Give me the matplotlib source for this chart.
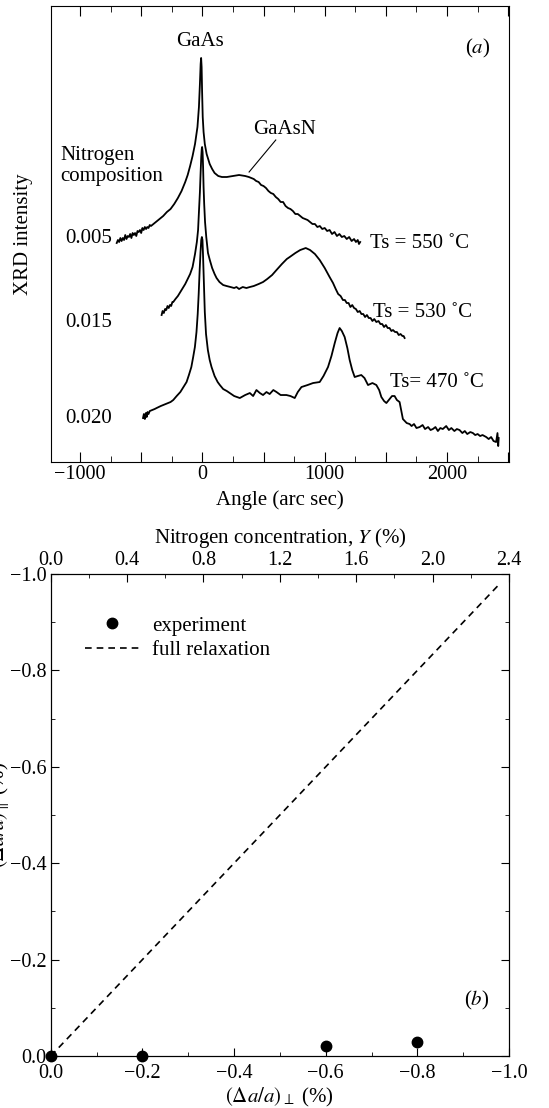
import numpy as np
import matplotlib
matplotlib.use("Agg")
import matplotlib.pyplot as plt
from matplotlib.ticker import MultipleLocator, FuncFormatter

plt.rcParams["font.family"] = ["Liberation Serif", "DejaVu Serif"]
plt.rcParams["mathtext.fontset"] = "stix"
plt.rcParams["font.size"] = 15
plt.rcParams["xtick.labelsize"] = 14.5
plt.rcParams["ytick.labelsize"] = 14.5

# ---- panel (a): XRD rocking curves (angle in arc sec, intensity in arb. units) ----
ang_005 = [-700, -690, -680, -670, -660, -650, -640, -630, -620, -610, -600, -590, -580, -570,
           -560, -550, -540, -530, -520, -510, -500, -490, -480, -470, -460, -450, -440, -430,
           -420, -400, -380, -350, -320, -290, -260, -230, -200, -170, -140, -120, -100, -80,
           -60, -40, -28, -20, -14, -10, -6, -2, 3, 10, 20, 35, 60, 80, 100, 130, 160, 200,
           250, 300, 350, 380, 400, 420, 440, 460, 480, 500, 520, 540, 560, 580, 600, 620, 640,
           660, 680, 700, 720, 740, 760, 780, 800, 820, 840, 860, 880, 900, 920, 940, 960, 980,
           1000, 1020, 1040, 1060, 1080, 1100, 1120, 1140, 1160, 1180, 1200, 1220, 1240, 1255,
           1270, 1280, 1290]
int_005 = [219, 222, 220, 224, 221, 224, 222, 227, 223, 226, 225, 228, 224, 229,
           227, 229, 226, 231, 230, 232, 229, 234, 232, 235, 233, 235, 234, 237,
           236, 238, 240, 243, 246, 250, 253, 258, 264, 271, 280, 287, 296, 306,
           318, 335, 355, 378, 398, 404, 395, 370, 345, 330, 318, 308, 298, 293, 289, 286, 285, 285,
           286, 287, 286, 285, 284, 283, 281, 280, 277, 276, 274, 271, 269, 268, 265, 263, 260,
           260, 256, 254, 253, 251, 248, 248, 246, 244, 243, 242, 240, 238, 238, 235, 236, 233,
           234, 231, 232, 228, 230, 226, 228, 225, 226, 223, 225, 221, 223, 220,
           222, 218, 220]

ang_015 = [-333, -325, -315, -305, -295, -285, -275, -265, -255, -245, -238, -220, -200, -180,
           -160, -140, -120, -100, -80, -60, -45, -35, -28, -20, -14, -9, -5, -2, 2, 6, 10, 15,
           22, 32, 46, 61, 80, 100, 116, 140, 170, 198, 230, 260, 279, 300, 330, 360, 388, 420,
           460, 496, 530, 570, 606, 650, 690, 714, 760, 800, 845, 880, 920, 959, 1000, 1040,
           1068, 1090, 1110, 1130, 1149, 1165, 1180, 1195, 1210, 1225, 1240, 1255, 1270, 1286,
           1300, 1315, 1330, 1345, 1360, 1375, 1390, 1405, 1422, 1440, 1455, 1470, 1485, 1500,
           1515, 1530, 1545, 1558, 1575, 1590, 1605, 1620, 1635, 1645, 1653]
int_015 = [147, 151, 149, 153, 152, 156, 154, 157, 156, 160, 160, 163, 166, 170,
           174, 178, 183, 188, 195, 208, 220, 232, 250, 270, 290, 305, 313, 315, 310, 295, 275, 258,
           240, 225, 209, 202, 194, 188, 184, 180, 177, 176, 175, 174, 175, 173, 175, 174, 175, 176,
           178, 180, 183, 187, 192, 198, 203, 205, 209, 212, 214, 212, 208, 202, 194, 185,
           179, 173, 168, 166, 162, 162, 159, 159, 155, 157, 154, 153, 150, 151,
           148, 148, 145, 147, 144, 144, 141, 143, 140, 141, 138, 138, 135, 137,
           134, 134, 131, 132, 130, 130, 127, 128, 126, 126, 124]

ang_020 = [-485, -478, -470, -462, -455, -448, -440, -430, -410, -390, -374, -340, -300, -260,
           -238, -210, -180, -150, -129, -110, -90, -75, -61, -48, -38, -30, -22, -15, -9, -4, 1,
           6, 12, 20, 30, 45, 60, 75, 100, 125, 143, 170, 200, 224, 260, 306, 350, 388, 415, 442,
           470, 496, 524, 550, 580, 606, 640, 687, 720, 755, 780, 810, 860, 905, 959, 990, 1027,
           1055, 1082, 1105, 1122, 1140, 1163, 1185, 1204, 1225, 1245, 1270, 1299, 1325, 1354,
           1390, 1422, 1445, 1463, 1485, 1504, 1530, 1550, 1571, 1590, 1612, 1625, 1639, 1655,
           1670, 1694, 1710, 1730, 1750, 1776, 1800, 1820, 1845, 1865, 1884, 1905, 1925, 1945,
           1965, 1993, 2015, 2035, 2060, 2080, 2102, 2125, 2145, 2165, 2190, 2211, 2230, 2250,
           2270, 2290, 2320, 2340, 2360, 2380, 2401, 2412, 2418, 2422]
int_020 = [44, 48, 43, 49, 45, 50, 48, 51, 52, 53, 54, 56, 58, 60,
           62, 66, 70, 76, 80, 87, 95, 105, 115, 130, 148, 168, 192, 210, 222, 225, 222,
           205, 180, 150, 128, 112, 102, 95, 86, 80, 77, 73, 71, 69, 66, 64, 67, 69, 66, 72,
           69, 67, 70, 68, 72, 70, 67, 67, 66, 64, 70, 75, 77, 79, 80, 86, 95,
           106, 119, 129, 134, 131, 125, 114, 102, 92, 85, 86, 87, 84, 77,
           79, 77, 72, 65, 61, 59, 63, 66, 66, 62, 60, 52, 43, 41,
           39, 38, 36, 38, 34, 35, 37, 33, 35, 32, 33, 35, 31, 34,
           33, 36, 32, 34, 31, 33, 32, 29, 31, 28, 30, 29, 27, 28,
           26, 27, 25, 23, 25, 21, 20, 29, 16, 24]

labels_N = ["0.005", "0.015", "0.020"]
labels_Ts = ["Ts = 550 \u02daC", "Ts = 530 \u02daC", "Ts= 470 \u02daC"]

# ---- panel (b): strain ----
exp_perp = [0.0, -0.2, -0.6, -0.8]
exp_par = [0.0, 0.0, -0.02, -0.03]
relax_perp = [0.0, -0.98]
relax_par = [0.0, -0.98]


def fmt1(v, pos):
    if abs(v) < 1e-9:
        v = 0.0
    return f"{v:.1f}".replace("-", "\u2212")


def fmt_angle(v, pos):
    if abs(v) % 1000 > 1e-6:
        return ""
    return f"{int(round(v))}".replace("-", "\u2212")


fig = plt.figure(figsize=(5.49, 11.08), dpi=100)

# panel (a)
ax1 = fig.add_axes([0.0929, 0.583, 0.8342, 0.4116])
for a, i in [(ang_005, int_005), (ang_015, int_015), (ang_020, int_020)]:
    ax1.plot(a, i, color="black", lw=1.3)
ax1.set_xlim(-1237, 2506)
ax1.set_ylim(0, 456)
ax1.set_yticks([])
ax1.xaxis.set_major_locator(MultipleLocator(500))
ax1.xaxis.set_minor_locator(MultipleLocator(250))
ax1.xaxis.set_major_formatter(FuncFormatter(fmt_angle))
ax1.tick_params(axis="x", which="both", direction="in", top=True, bottom=True, pad=2)
ax1.tick_params(axis="x", which="major", length=7.5)
ax1.tick_params(axis="x", which="minor", length=4)
ax1.set_xlabel("Angle (arc sec)", labelpad=5)
ax1.set_ylabel("XRD intensity")
ax1.yaxis.set_label_coords(-0.04, 0.5)

ax1.text(-20, 420, "GaAs", ha="center", va="center")
ax1.text(2249, 414, r"($a$)", ha="center", va="center")
ax1.text(673, 332, "GaAsN", ha="center", va="center")
ax1.plot([600, 382], [322, 290], color="black", lw=0.8)
ax1.text(-1163, 296, "Nitrogen\ncomposition", ha="left", va="center", linespacing=1.15)
for lab, yv in zip(labels_N, [224, 140, 44]):
    ax1.text(-1122, yv, lab, ha="left", va="center")
for lab, xv, yv in zip(labels_Ts, [1367, 1392, 1531], [219, 150, 80]):
    ax1.text(xv, yv, lab, ha="left", va="center")

# panel (b)
ax2 = fig.add_axes([0.0924, 0.0469, 0.8347, 0.435])
ax2.plot(relax_perp, relax_par, color="black", lw=1.2, ls=(0, (4, 3)), label="full relaxation")
ax2.plot(exp_perp, exp_par, "o", color="black", ms=7.5, clip_on=False, zorder=5, label="experiment")
ax2.set_xlim(0, -1.0)
ax2.set_ylim(0, -1.0)
ax2.xaxis.set_major_locator(MultipleLocator(0.2))
ax2.xaxis.set_minor_locator(MultipleLocator(0.1))
ax2.yaxis.set_major_locator(MultipleLocator(0.2))
ax2.yaxis.set_minor_locator(MultipleLocator(0.1))
ax2.xaxis.set_major_formatter(FuncFormatter(fmt1))
ax2.yaxis.set_major_formatter(FuncFormatter(fmt1))
ax2.tick_params(axis="x", which="both", direction="in", top=False, bottom=True, pad=6)
ax2.tick_params(axis="y", which="both", direction="in", left=True, right=True, pad=3)
ax2.tick_params(which="major", length=6)
ax2.tick_params(which="minor", length=3)
ax2.set_xlabel(r"$(\Delta a/a)_{\perp}$ (%)", labelpad=2)
ax2.set_ylabel(r"$(\Delta a/a)_{\parallel}$ (%)")
ax2.yaxis.set_label_coords(-0.085, 0.5)
ax2.text(0.93, 0.116, r"($b$)", transform=ax2.transAxes, ha="center", va="center")

h, l = ax2.get_legend_handles_labels()
ax2.legend([h[1], h[0]], [l[1], l[0]], loc="upper left", bbox_to_anchor=(0.075, 0.913),
           frameon=False, borderpad=0, borderaxespad=0, handlelength=2.6,
           handletextpad=0.6, labelspacing=0.25, fontsize=15)

ax3 = ax2.twiny()
ax3.set_xlim(0, 2.4)
ax3.xaxis.set_major_locator(MultipleLocator(0.4))
ax3.xaxis.set_minor_locator(MultipleLocator(0.2))
ax3.xaxis.set_major_formatter(FuncFormatter(fmt1))
ax3.tick_params(axis="x", which="both", direction="in", pad=3)
ax3.tick_params(which="major", length=6)
ax3.tick_params(which="minor", length=3)
ax3.set_xlabel(r"Nitrogen concentration, $Y$ (%)", labelpad=6)

fig.savefig("out.png", dpi=100)
